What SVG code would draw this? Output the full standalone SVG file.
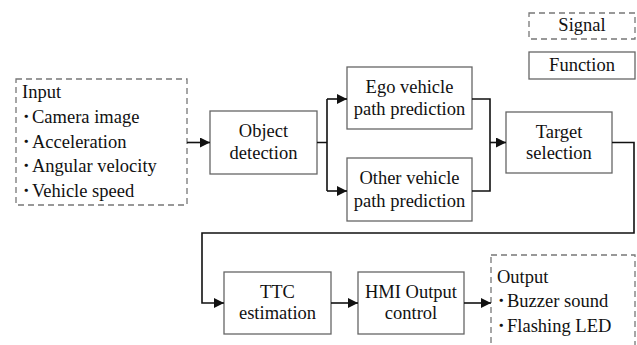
<svg xmlns="http://www.w3.org/2000/svg" width="637" height="345" viewBox="0 0 637 345">
<defs>
<style>
.fn{fill:#fff;stroke:#666;stroke-width:1.3}
.sg{fill:#fff;stroke:#777;stroke-width:1.3;stroke-dasharray:6,4}
.c{text-anchor:middle}
.ln{fill:none;stroke:#111;stroke-width:1.6}
.t{font-family:'Liberation Serif','Times New Roman',serif;font-size:18.5px;fill:#111}
.b{font-family:'Noto Sans CJK JP',sans-serif;font-size:17px;font-weight:bold}
</style>
<marker id="ah" viewBox="0 0 10 10" refX="10" refY="5" markerWidth="10" markerHeight="10" markerUnits="userSpaceOnUse" orient="auto">
<path d="M0,0 L10,5 L0,10 z" fill="#111"/>
</marker>
</defs>
<rect width="637" height="345" fill="#fff"/>
<g class="t">
<g id="legend-signal"><rect class="sg" x="529" y="13" width="106" height="26"/><text class="c" x="582" y="31">Signal</text></g>
<g id="legend-function"><rect class="fn" x="529" y="52" width="106" height="27"/><text class="c" x="582" y="71">Function</text></g>
<g id="input"><rect class="sg" x="16" y="79" width="171" height="126"/>
<text x="22" y="98">Input</text>
<text x="22" y="123"><tspan class="b">･</tspan><tspan x="32">Camera image</tspan></text>
<text x="22" y="148"><tspan class="b">･</tspan><tspan x="32">Acceleration</tspan></text>
<text x="22" y="172"><tspan class="b">･</tspan><tspan x="32">Angular velocity</tspan></text>
<text x="22" y="197"><tspan class="b">･</tspan><tspan x="32">Vehicle speed</tspan></text></g>
<g id="object"><rect class="fn" x="210" y="111" width="107" height="63"/><text class="c" x="263.5" y="137">Object</text><text class="c" x="263.5" y="159">detection</text></g>
<g id="ego"><rect class="fn" x="347" y="67" width="125" height="62"/><text class="c" x="409.5" y="93">Ego vehicle</text><text class="c" x="409.5" y="115">path prediction</text></g>
<g id="other"><rect class="fn" x="347" y="158" width="125" height="63"/><text class="c" x="409.5" y="184">Other vehicle</text><text class="c" x="409.5" y="207">path prediction</text></g>
<g id="target"><rect class="fn" x="506" y="112" width="106" height="61"/><text class="c" x="559" y="138">Target</text><text class="c" x="559" y="159">selection</text></g>
<g id="ttc"><rect class="fn" x="224" y="272" width="107" height="62"/><text class="c" x="277.5" y="298">TTC</text><text class="c" x="277.5" y="319">estimation</text></g>
<g id="hmi"><rect class="fn" x="358" y="272" width="106" height="62"/><text class="c" x="411" y="298">HMI Output</text><text class="c" x="411" y="319">control</text></g>
<g id="output"><rect class="sg" x="491" y="255" width="144" height="100"/>
<text x="497" y="283">Output</text>
<text x="497" y="307"><tspan class="b">･</tspan><tspan x="507">Buzzer sound</tspan></text>
<text x="497" y="332"><tspan class="b">･</tspan><tspan x="507">Flashing LED</tspan></text></g>
</g>
<g id="connectors">
<path class="ln" d="M187,142.5 H210" marker-end="url(#ah)"/>
<path class="ln" d="M317,142.5 H327 M327,99 V191"/>
<path class="ln" d="M327,99 H347" marker-end="url(#ah)"/>
<path class="ln" d="M327,191 H347" marker-end="url(#ah)"/>
<path class="ln" d="M472,99 H490 V191 H472"/>
<path class="ln" d="M490,142.5 H506" marker-end="url(#ah)"/>
<path class="ln" d="M612,142.5 H634 V233 H202 V303 H224" marker-end="url(#ah)"/>
<path class="ln" d="M331,303 H358" marker-end="url(#ah)"/>
<path class="ln" d="M464,303 H491" marker-end="url(#ah)"/>
</g>
</svg>
